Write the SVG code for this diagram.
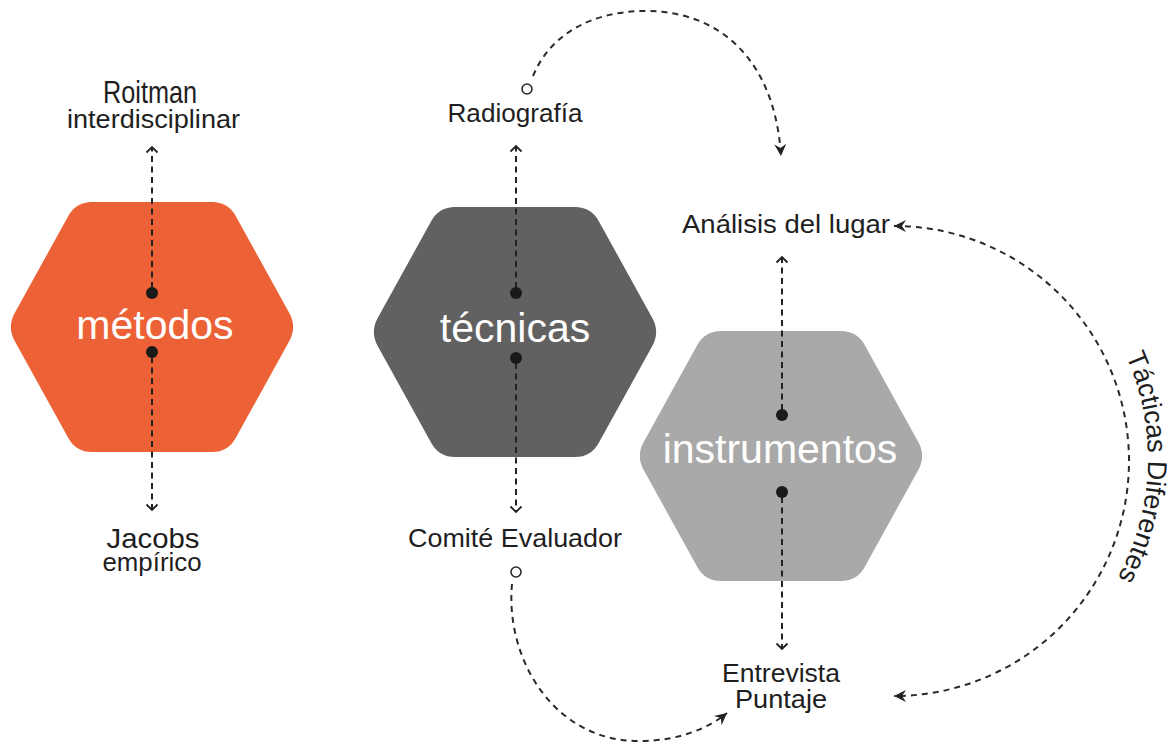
<svg xmlns="http://www.w3.org/2000/svg" xmlns:xlink="http://www.w3.org/1999/xlink" width="1173" height="744" viewBox="0 0 1173 744">
<style>
.hexlabel{font-family:"Liberation Sans","Helvetica",Arial,sans-serif;font-size:41px;fill:#ffffff;text-anchor:middle}
.lbl{font-family:"Liberation Sans","Helvetica",Arial,sans-serif;font-size:26px;fill:#1e1e1e;text-anchor:middle}
.dash{fill:none;stroke:#222;stroke-width:2;stroke-dasharray:6 4.5}
.dashc{fill:none;stroke:#2a2a2a;stroke-width:2;stroke-dasharray:6 5}
.dot{fill:#1a1a1a}
.ring{fill:#fff;stroke:#2a2a2a;stroke-width:1.6}
</style>
<defs>
<path id="hex" d="M -60,-125 L 60,-125 Q 76,-125 83.7,-111 L 137.3,-14 Q 145,0 137.3,14 L 83.7,111 Q 76,125 60,125 L -60,125 Q -76,125 -83.7,111 L -137.3,14 Q -145,0 -137.3,-14 L -83.7,-111 Q -76,-125 -60,-125 Z"/>
<marker id="chev" viewBox="-8 -7 10 14" markerWidth="10" markerHeight="14" refX="0" refY="0" orient="auto-start-reverse" markerUnits="userSpaceOnUse">
<path d="M -5.5,-5.5 L 0,0 L -5.5,5.5" fill="none" stroke="#222" stroke-width="1.8"/>
</marker>
<marker id="barb" viewBox="-14 -8 16 16" markerWidth="16" markerHeight="16" refX="0" refY="0" orient="auto-start-reverse" markerUnits="userSpaceOnUse">
<path d="M 0,0 L -12,-6 L -8,0 L -12,6 Z" fill="#222"/>
</marker>
<path id="tacPath" d="M 1126,356 A 250 250 0 0 1 1098.3,608"/>
</defs>

<g id="node-metodos">
<use xlink:href="#hex" href="#hex" transform="translate(152,327)" fill="#EC6236"/>
<text class="hexlabel" x="155" y="339">métodos</text>
</g>
<g id="node-tecnicas">
<use xlink:href="#hex" href="#hex" transform="translate(515,332)" fill="#616161"/>
<text class="hexlabel" x="515" y="342">técnicas</text>
</g>
<g id="node-instrumentos">
<use xlink:href="#hex" href="#hex" transform="translate(781,456)" fill="#A9A9A9"/>
<text class="hexlabel" x="780" y="463">instrumentos</text>
</g>

<g id="label-roitman">
<text class="lbl" x="150" y="103" style="font-size:32px" textLength="94" lengthAdjust="spacingAndGlyphs">Roitman</text>
<text class="lbl" x="153.5" y="128" style="font-size:26px" textLength="173" lengthAdjust="spacingAndGlyphs">interdisciplinar</text>
</g>
<g id="label-jacobs">
<text class="lbl" x="153" y="548" style="font-size:28px" textLength="93" lengthAdjust="spacingAndGlyphs">Jacobs</text>
<text class="lbl" x="152" y="571" style="font-size:26px" textLength="99" lengthAdjust="spacingAndGlyphs">empírico</text>
</g>
<g id="label-radiografia">
<text class="lbl" x="515" y="122" textLength="135" lengthAdjust="spacingAndGlyphs">Radiografía</text>
<circle class="ring" cx="527" cy="89" r="5"/>
</g>
<g id="label-comite">
<text class="lbl" x="515" y="547" textLength="214" lengthAdjust="spacingAndGlyphs">Comité Evaluador</text>
<circle class="ring" cx="516" cy="572" r="5"/>
</g>
<g id="label-analisis">
<text class="lbl" x="786" y="233" textLength="208" lengthAdjust="spacingAndGlyphs">Análisis del lugar</text>
</g>
<g id="label-entrevista">
<text class="lbl" x="781" y="682" textLength="118" lengthAdjust="spacingAndGlyphs">Entrevista</text>
<text class="lbl" x="781" y="708" textLength="92" lengthAdjust="spacingAndGlyphs">Puntaje</text>
</g>
<g id="label-tacticas">
<text style="font-family:'Liberation Sans',Arial,sans-serif;font-size:27px;fill:#1e1e1e"><textPath xlink:href="#tacPath" href="#tacPath" textLength="230" lengthAdjust="spacingAndGlyphs">Tácticas Diferentes</textPath></text>
</g>

<g id="connectors">
<path class="dash" d="M 152,288 L 152,147" marker-end="url(#chev)"/>
<path class="dash" d="M 152,357 L 152,510" marker-end="url(#chev)"/>
<path class="dash" d="M 516,288 L 516,146" marker-end="url(#chev)"/>
<path class="dash" d="M 516,363 L 516,512" marker-end="url(#chev)"/>
<path class="dash" d="M 782,410 L 782,257" marker-end="url(#chev)"/>
<path class="dash" d="M 782,497 L 782,649" marker-end="url(#chev)"/>
<circle class="dot" cx="152" cy="293" r="6"/>
<circle class="dot" cx="152" cy="352" r="6"/>
<circle class="dot" cx="516" cy="293" r="6"/>
<circle class="dot" cx="516" cy="358" r="6"/>
<circle class="dot" cx="782" cy="415" r="6"/>
<circle class="dot" cx="782" cy="492" r="6"/>
<path class="dashc" d="M 533,76 C 550,35 590,12 643,11 C 720,10 775,60 781,156" marker-end="url(#barb)"/>
<path class="dashc" d="M 512,584 C 505,660 555,742 640,741 C 680,741 710,727 727,713" marker-end="url(#barb)"/>
<path class="dashc" d="M 894,226 A 235 235 0 0 1 894,696" marker-start="url(#barb)" marker-end="url(#barb)"/>
</g>
</svg>
